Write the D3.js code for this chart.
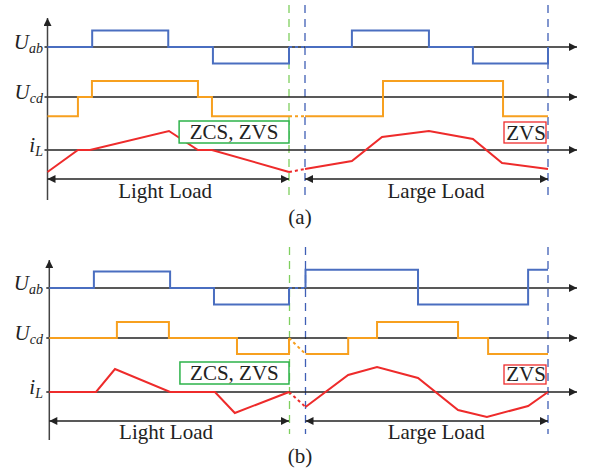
<!DOCTYPE html>
<html>
<head>
<meta charset="utf-8">
<script src="https://cdn.jsdelivr.net/npm/d3@7"></script>
<style>
  body { margin: 0; background: #fff; }
  svg { display: block; }
</style>
</head>
<body>
<script>
// time in fraction of one switching period, levels in per-unit
// panel (a)
const aLightUab = [[0, 0], [0.185, 1], [0.5, 0], [0.685, -1], [1, 0]];
const aLightUcd = [[0, -1.2], [0.126, 0], [0.184, 1], [0.623, 0], [0.681, -1.2], [1, -1.2]];
const aLightIL = [[0, -1.1], [0.126, 0], [0.176, 0], [0.503, 0.95], [0.623, 0], [0.681, 0], [1, -1.1]];
const aLargeUab = [[0, 0], [0.193, 1], [0.51, 0], [0.691, -1], [1, 0]];
const aLargeUcd = [[0, -1.2], [0.321, 1], [0.815, -1.2], [1, -1.2]];
const aLargeIL = [[0, -0.95], [0.193, -0.55], [0.317, 0.65], [0.51, 0.95], [0.691, 0.55], [0.811, -0.65], [1, -0.95]];

// panel (b)
const bLightUab = [[0, 0], [0.186, 1], [0.504, 0], [0.687, -1], [1, 0]];
const bLightUcd = [[0, 0], [0.282, 1], [0.499, 0], [0.783, -1], [1, 0]];
const bLightIL = [[0, 0], [0.195, 0], [0.274, 1.15], [0.504, 0], [0.691, 0], [0.774, -1.05], [1, 0]];
const bLargeUab = [[0, 0], [0, 1.1], [0.464, -1], [0.918, 1.1], [1, 1.1]];
const bLargeUcd = [[0, -1], [0.176, 0], [0.295, 1], [0.629, 0], [0.753, -1], [1, -1]];
const bLargeIL = [[0, -0.75], [0.176, 0.85], [0.295, 1.25], [0.464, 0.7], [0.629, -0.9], [0.748, -1.25], [0.918, -0.7], [1, 0]];

const channels = ['Uab', 'Ucd', 'iL'];
const loadLabels = ['Light Load', 'Large Load'];
const notes = ['ZCS, ZVS', 'ZVS'];
const panelNames = ['(a)', '(b)'];

const W = 589, H = 474;
const FONT = "'Liberation Serif', 'Times New Roman', 'DejaVu Serif', serif";
const colors = {Uab: '#4a6ec0', Ucd: '#f7a01f', iL: '#ee2b2b'};

const svg = d3.select('body').append('svg')
    .attr('width', W)
    .attr('height', H);

const defs = svg.append('defs');
const marker = (id, color, w, h) => {
    defs.append('marker')
        .attr('id', id)
        .attr('viewBox', '0 0 10 10')
        .attr('refX', 10).attr('refY', 5)
        .attr('markerUnits', 'userSpaceOnUse')
        .attr('markerWidth', w).attr('markerHeight', h)
        .attr('orient', 'auto-start-reverse')
        .append('path')
        .attr('d', 'M0,0 L10,5 L0,10 Z')
        .attr('fill', color);
};
marker('arr', '#222', 11, 8);
marker('arrD', '#222', 12, 8);

const addText = (sel, x, y, txt, size) => sel.append('text')
    .attr('x', x).attr('y', y)
    .attr('text-anchor', 'middle')
    .attr('font-family', FONT)
    .attr('font-size', size)
    .attr('fill', '#222')
    .text(txt);

const panels = [
    {
        name: panelNames[0], axisX: 47.5, top: 18, bottom: 200,
        base: {Uab: 47, Ucd: 97, iL: 150},
        light: {Uab: aLightUab, Ucd: aLightUcd, iL: aLightIL},
        large: {Uab: aLargeUab, Ucd: aLargeUcd, iL: aLargeIL},
        lightRange: [47.5, 289], largeRange: [305, 548],
        dashTop: 5, dashBottom: 196, green: 289,
        arrowY: 179, labelY: 198, nameY: 224,
        bridge: {Uab: [0, 0], Ucd: [-1.2, -1.2], iL: [-1.1, -0.95]},
        note1: {t0: 0.545, y0: 121, y1: 143}, note2: {x0: 504, x1: 546, y0: 122, y1: 143}
    },
    {
        name: panelNames[1], axisX: 49.3, top: 260, bottom: 440,
        base: {Uab: 288, Ucd: 338, iL: 392},
        light: {Uab: bLightUab, Ucd: bLightUcd, iL: bLightIL},
        large: {Uab: bLargeUab, Ucd: bLargeUcd, iL: bLargeIL},
        lightRange: [49.3, 289], largeRange: [305.5, 548],
        dashTop: 247, dashBottom: 434, green: 289.5,
        arrowY: 421, labelY: 439, nameY: 463,
        bridge: {Uab: [0, 0], Ucd: [0, -1], iL: [0, -0.75]},
        note1: {t0: 0.545, y0: 362, y1: 384}, note2: {x0: 504, x1: 546, y0: 365, y1: 384}
    }
];

const axisEnd = 577;
const unitPx = {Uab: 16.5, Ucd: 16, iL: 20};

panels.forEach(p => {
    const g = svg.append('g');
    const xL = d3.scaleLinear().domain([0, 1]).range(p.lightRange);
    const xG = d3.scaleLinear().domain([0, 1]).range(p.largeRange);
    const y = {};
    channels.forEach(c => {
        y[c] = d3.scaleLinear().domain([-1, 1]).range([p.base[c] + unitPx[c], p.base[c] - unitPx[c]]);
    });

    // dashed separators
    g.append('line')
        .attr('x1', p.green).attr('x2', p.green)
        .attr('y1', p.dashTop).attr('y2', p.dashBottom)
        .attr('stroke', '#7fcf5f').attr('stroke-width', 1.3)
        .attr('stroke-dasharray', '8,6');
    [xG(0), xG(1)].forEach(xx => {
        g.append('line')
            .attr('x1', xx).attr('x2', xx)
            .attr('y1', p.dashTop).attr('y2', p.dashBottom)
            .attr('stroke', '#3f5fb5').attr('stroke-width', 1.3)
            .attr('stroke-dasharray', '8,6');
    });

    // baselines with arrows
    channels.forEach(c => {
        g.append('line')
            .attr('x1', p.axisX - 3).attr('x2', axisEnd)
            .attr('y1', p.base[c]).attr('y2', p.base[c])
            .attr('stroke', '#222').attr('stroke-width', 1.3)
            .attr('marker-end', 'url(#arr)');
    });

    // vertical axis
    g.append('line')
        .attr('x1', p.axisX).attr('x2', p.axisX)
        .attr('y1', p.bottom).attr('y2', p.top)
        .attr('stroke', '#444').attr('stroke-width', 1.5)
        .attr('marker-end', 'url(#arr)');

    // waveforms
    channels.forEach(c => {
        const curve = c === 'iL' ? d3.curveLinear : d3.curveStepAfter;
        [[xL, p.light[c]], [xG, p.large[c]]].forEach(([xs, data]) => {
            g.append('path')
                .datum(data)
                .attr('fill', 'none')
                .attr('stroke', colors[c])
                .attr('stroke-width', 2)
                .attr('d', d3.line().curve(curve).x(d => xs(d[0])).y(d => y[c](d[1])));
        });
        // dotted bridge between the two loads
        const br = p.bridge[c];
        g.append('line')
            .attr('x1', xL(1)).attr('x2', xG(0))
            .attr('y1', y[c](br[0])).attr('y2', y[c](br[1]))
            .attr('stroke', colors[c]).attr('stroke-width', 2)
            .attr('stroke-dasharray', '3,3');
    });

    // channel labels
    const lab = [['U', 'ab', 'Uab'], ['U', 'cd', 'Ucd'], ['i', 'L', 'iL']];
    lab.forEach(([main, sub, c]) => {
        const t = g.append('text')
            .attr('x', 43).attr('y', p.base[c] + 1.5)
            .attr('text-anchor', 'end')
            .attr('font-family', FONT)
            .attr('font-style', 'italic')
            .attr('font-size', 21)
            .attr('fill', '#222');
        t.append('tspan').text(main);
        t.append('tspan').attr('dy', 4).attr('font-size', 14).text(sub);
    });

    // double arrows + load labels
    [[xL, loadLabels[0], 0.487], [xG, loadLabels[1], 0.539]].forEach(([xs, txt, pos]) => {
        g.append('line')
            .attr('x1', xs(0)).attr('x2', xs(1))
            .attr('y1', p.arrowY).attr('y2', p.arrowY)
            .attr('stroke', '#222').attr('stroke-width', 1.3)
            .attr('marker-start', 'url(#arrD)')
            .attr('marker-end', 'url(#arrD)');
        addText(g, xs(pos), p.labelY, txt, 21);
    });

    // annotation boxes
    const n1x0 = xL(p.note1.t0), n1x1 = xL(1);
    g.append('rect')
        .attr('x', n1x0).attr('y', p.note1.y0)
        .attr('width', n1x1 - n1x0).attr('height', p.note1.y1 - p.note1.y0)
        .attr('fill', '#fff').attr('stroke', '#2db34a').attr('stroke-width', 1.5);
    addText(g, (n1x0 + n1x1) / 2, p.note1.y1 - 4, notes[0], 21);
    g.append('rect')
        .attr('x', p.note2.x0).attr('y', p.note2.y0)
        .attr('width', p.note2.x1 - p.note2.x0).attr('height', p.note2.y1 - p.note2.y0)
        .attr('fill', '#fff').attr('stroke', '#ee2b2b').attr('stroke-width', 1.3);
    addText(g, (p.note2.x0 + p.note2.x1) / 2 + 1, p.note2.y1 - 3.5, notes[1], 21);

    addText(g, 300, p.nameY, p.name, 21);
});
</script>
</body>
</html>
